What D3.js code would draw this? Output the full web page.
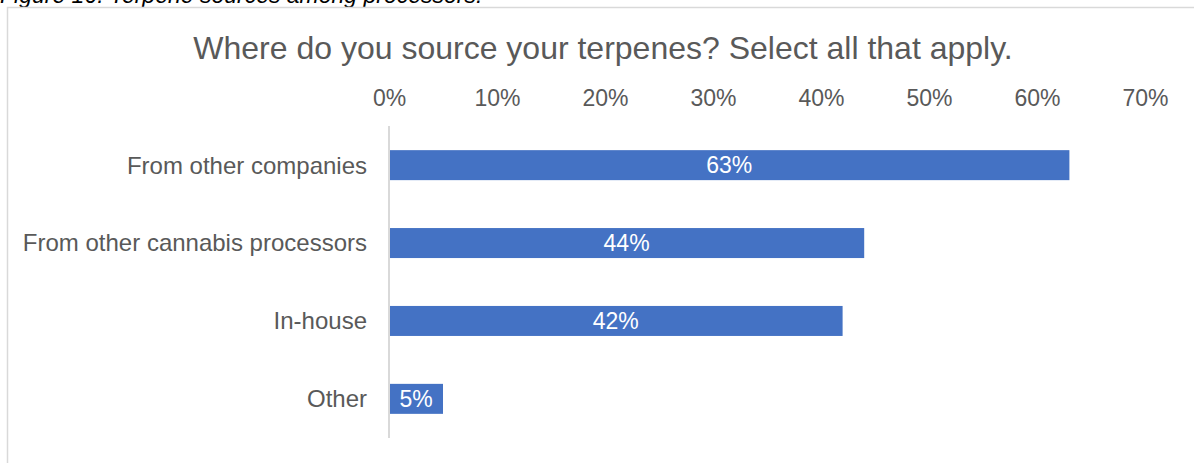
<!DOCTYPE html>
<html>
<head>
<meta charset="utf-8">
<script src="https://cdn.jsdelivr.net/npm/d3@7/dist/d3.min.js"></script>
<style>
  html, body { margin: 0; padding: 0; background: #fff; }
  svg { display: block; font-family: "Liberation Sans", Arial, sans-serif; }
</style>
</head>
<body>
<svg id="chart" width="1194" height="463"></svg>
<script>
// Survey responses: terpene sources among processors
const categories = ["From other companies", "From other cannabis processors", "In-house", "Other"];
const shares = [63, 44, 42, 5];
const tickValues = [0, 10, 20, 30, 40, 50, 60, 70];
const chartTitle = "Where do you source your terpenes? Select all that apply.";
const caption = "Figure 16: Terpene sources among processors.";

const svg = d3.select("#chart");
const W = 1194, H = 463;

// caption sits above the chart frame, running off the top edge
svg.append("text")
  .attr("x", 0).attr("y", 3)
  .attr("font-size", 23).attr("font-style", "italic")
  .attr("fill", "#000")
  .text(caption);

// chart frame
svg.append("path")
  .attr("d", `M7.5,${H} V7.5 H${W}`)
  .attr("fill", "none").attr("stroke", "#d9d9d9").attr("stroke-width", 1.5);

svg.append("text")
  .attr("x", 603).attr("y", 59)
  .attr("text-anchor", "middle")
  .attr("font-size", 32).attr("fill", "#595959")
  .text(chartTitle);

const x = d3.scaleLinear().domain([0, 70]).range([389, 1145]);
const y = d3.scaleBand().domain(categories).range([126, 438]).paddingInner(0.615).paddingOuter(0.31);

// top axis tick labels
const xAxis = svg.append("g")
  .attr("transform", "translate(0,98)")
  .call(d3.axisTop(x).tickValues(tickValues).tickFormat(d => d + "%").tickSize(0).tickPadding(0));
xAxis.select(".domain").remove();
xAxis.selectAll("text")
  .attr("font-size", 23).attr("fill", "#595959")
  .attr("font-family", "Liberation Sans, Arial, sans-serif")
  .attr("dy", "0.35em");

// bars
svg.append("g").selectAll("rect")
  .data(categories)
  .join("rect")
  .attr("x", x(0))
  .attr("y", d => y(d))
  .attr("width", (d, i) => x(shares[i]) - x(0))
  .attr("height", y.bandwidth())
  .attr("fill", "#4472c4");

// category axis line and labels
svg.append("line")
  .attr("x1", x(0)).attr("x2", x(0))
  .attr("y1", 126).attr("y2", 438)
  .attr("stroke", "#d9d9d9").attr("stroke-width", 2);

svg.append("g").selectAll("text")
  .data(categories)
  .join("text")
  .attr("x", 367)
  .attr("y", d => y(d) + y.bandwidth() / 2)
  .attr("dy", "0.35em")
  .attr("text-anchor", "end")
  .attr("font-size", 24).attr("fill", "#595959")
  .text(d => d);

// value labels inside bars
svg.append("g").selectAll("text")
  .data(categories)
  .join("text")
  .attr("x", (d, i) => (x(0) + x(shares[i])) / 2)
  .attr("y", d => y(d) + y.bandwidth() / 2)
  .attr("dy", "0.35em")
  .attr("text-anchor", "middle")
  .attr("font-size", 23).attr("fill", "#fff")
  .text((d, i) => shares[i] + "%");
</script>
</body>
</html>
